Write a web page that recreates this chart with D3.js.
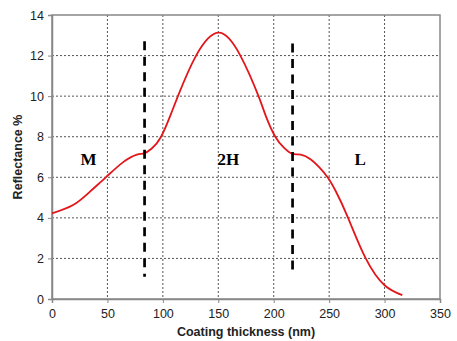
<!DOCTYPE html>
<html>
<head>
<meta charset="utf-8">
<script src="https://cdn.jsdelivr.net/npm/d3@7"></script>
<style>
  body { margin: 0; background: #fff; }
  svg { display: block; }
</style>
</head>
<body>
<div id="chart"></div>
<script>
// reflectance curve (thickness nm, reflectance %)
var thickness = [0, 19, 34, 49, 64.5, 76.6, 83, 90, 98.4, 106.8, 113.6, 130, 150.5,
  169.9, 186.3, 193, 201.4, 209.4, 216.9, 224.4, 233.5, 241, 248.6, 256.1, 266.7, 283, 300, 316];
var reflectance = [4.22, 4.63, 5.28, 6.02, 6.76, 7.12, 7.18, 7.42, 8.0, 9.05, 10.0, 12.0, 13.13,
  12.0, 10.0, 9.0, 8.0, 7.45, 7.15, 7.12, 6.88, 6.5, 6.0, 5.3, 4.05, 2.0, 0.68, 0.19];

// vertical dashed boundaries between layers
var boundaryX = [83.5, 217];
var boundaryTop = [12.7, 12.6];
var boundaryBottom = [1.1, 1.4];

var layerNames = ["M", "2H", "L"];
var layerX = [33, 159, 278];
var layerY = [6.9, 6.9, 6.9];

var xTicks = [0, 50, 100, 150, 200, 250, 300, 350];
var yTicks = [0, 2, 4, 6, 8, 10, 12, 14];

var width = 457, height = 341;
var margin = { top: 15, right: 17, bottom: 42, left: 52 };
var innerW = width - margin.left - margin.right;
var innerH = height - margin.top - margin.bottom;

var svg = d3.select("#chart").append("svg")
  .attr("width", width)
  .attr("height", height);

var g = svg.append("g")
  .attr("transform", "translate(" + margin.left + "," + margin.top + ")");

var x = d3.scaleLinear().domain([0, 350]).range([0, innerW]);
var y = d3.scaleLinear().domain([0, 14]).range([innerH, 0]);

// grid
g.append("g").selectAll("line").data(xTicks.slice(1, -1)).enter().append("line")
  .attr("x1", function(d) { return x(d); })
  .attr("x2", function(d) { return x(d); })
  .attr("y1", 0).attr("y2", innerH)
  .attr("stroke", "#555").attr("stroke-width", 1)
  .attr("stroke-dasharray", "2,2");

g.append("g").selectAll("line").data(yTicks.slice(1, -1)).enter().append("line")
  .attr("x1", 0).attr("x2", innerW)
  .attr("y1", function(d) { return y(d); })
  .attr("y2", function(d) { return y(d); })
  .attr("stroke", "#555").attr("stroke-width", 1)
  .attr("stroke-dasharray", "2,2");

// frame
g.append("rect")
  .attr("width", innerW).attr("height", innerH)
  .attr("fill", "none").attr("stroke", "#888").attr("stroke-width", 1.5);

// axes
var xAxis = g.append("g")
  .attr("transform", "translate(0," + innerH + ")")
  .call(d3.axisBottom(x).tickValues(xTicks).tickSize(4).tickPadding(6));
var yAxis = g.append("g")
  .call(d3.axisLeft(y).tickValues(yTicks).tickSize(4).tickPadding(4));

[xAxis, yAxis].forEach(function(a) {
  a.select(".domain").attr("stroke", "#888").attr("stroke-width", 1.5);
  a.selectAll(".tick line").attr("stroke", "#888");
  a.selectAll("text")
    .attr("font-family", "Liberation Sans, Arial, sans-serif")
    .attr("font-size", 12.5)
    .attr("fill", "#222");
});

// curve
var pts = thickness.map(function(t, i) { return [t, reflectance[i]]; });
var line = d3.line()
  .x(function(d) { return x(d[0]); })
  .y(function(d) { return y(d[1]); })
  .curve(d3.curveNatural);

g.append("path")
  .datum(pts)
  .attr("d", line)
  .attr("fill", "none")
  .attr("stroke", "#e3161b")
  .attr("stroke-width", 1.8);

// dashed boundaries
g.append("g").selectAll("line").data(boundaryX).enter().append("line")
  .attr("x1", function(d) { return x(d); })
  .attr("x2", function(d) { return x(d); })
  .attr("y1", function(d, i) { return y(boundaryTop[i]); })
  .attr("y2", function(d, i) { return y(boundaryBottom[i]); })
  .attr("stroke", "#000")
  .attr("stroke-width", 2.7)
  .attr("stroke-dasharray", "9,6.5");

// layer labels
g.append("g").selectAll("text").data(layerNames).enter().append("text")
  .attr("x", function(d, i) { return x(layerX[i]); })
  .attr("y", function(d, i) { return y(layerY[i]); })
  .attr("text-anchor", "middle")
  .attr("dy", "0.35em")
  .attr("font-family", "Liberation Serif, Times New Roman, serif")
  .attr("font-weight", "bold")
  .attr("font-size", 17)
  .attr("fill", "#000")
  .text(function(d) { return d; });

// axis titles
svg.append("text")
  .attr("x", margin.left + innerW / 2)
  .attr("y", 336)
  .attr("text-anchor", "middle")
  .attr("font-family", "Liberation Sans, Arial, sans-serif")
  .attr("font-weight", "bold")
  .attr("font-size", 12.5)
  .attr("fill", "#222")
  .text("Coating thickness (nm)");

svg.append("text")
  .attr("transform", "translate(22," + (margin.top + innerH / 2) + ") rotate(-90)")
  .attr("text-anchor", "middle")
  .attr("font-family", "Liberation Sans, Arial, sans-serif")
  .attr("font-weight", "bold")
  .attr("font-size", 12.5)
  .attr("fill", "#222")
  .text("Reflectance %");
</script>
</body>
</html>
